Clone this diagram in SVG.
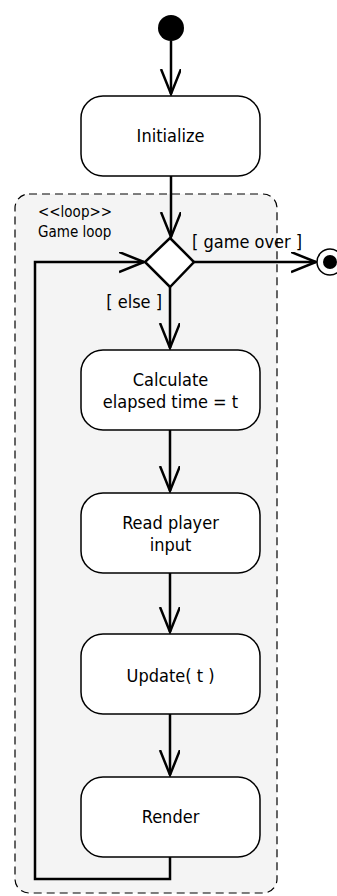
<svg xmlns="http://www.w3.org/2000/svg" width="337" height="896" viewBox="0 0 337 896">
<style>
text{font-family:"DejaVu Sans Condensed","DejaVu Sans","Liberation Sans",sans-serif;font-stretch:condensed;font-size:18px;fill:#000}
.box{fill:#fff;stroke:#000;stroke-width:1.5}
.edge{fill:none;stroke:#000;stroke-width:2.5}
.lbl{font-size:15px}
</style>
<defs>
<marker id="arr" markerWidth="30" markerHeight="24" refX="25" refY="10" orient="auto" markerUnits="userSpaceOnUse">
<path d="M0,0 L25,10 L0,20" fill="none" stroke="#000" stroke-width="2.5"/>
</marker>
</defs>
<g id="loop-frame">
<rect x="15" y="194" width="262" height="699" rx="14" fill="#f4f4f4" stroke="#000" stroke-width="1.2" stroke-dasharray="8,5"/>
<text class="lbl" x="38" y="217">&lt;&lt;loop&gt;&gt;</text>
<text class="lbl" x="38" y="237">Game loop</text>
</g>
<g id="connectors">
<path class="edge" d="M171,41 V94" marker-end="url(#arr)"/>
<path class="edge" d="M171,176 V237" marker-end="url(#arr)"/>
<path class="edge" d="M194,262 H316" marker-end="url(#arr)"/>
<path class="edge" d="M170,287 V348" marker-end="url(#arr)"/>
<path class="edge" d="M170,430 V491" marker-end="url(#arr)"/>
<path class="edge" d="M170,573 V632" marker-end="url(#arr)"/>
<path class="edge" d="M170,714 V775" marker-end="url(#arr)"/>
<path class="edge" d="M170,857 V879 H35 V262 H144" marker-end="url(#arr)"/>
<text x="192" y="248">[ game over ]</text>
<text x="162" y="308" text-anchor="end">[ else ]</text>
</g>
<g id="start"><circle cx="171" cy="28" r="13" fill="#000"/></g>
<g id="initialize">
<rect class="box" x="81" y="96" width="179" height="80" rx="22"/>
<text x="170.5" y="142" text-anchor="middle">Initialize</text>
</g>
<g id="decision">
<path d="M170,238 L194,262 L170,287 L145,262 Z" fill="#fff" stroke="#000" stroke-width="2.5"/>
</g>
<g id="final">
<circle cx="330" cy="262" r="13" fill="#fff" stroke="#000" stroke-width="1.5"/>
<circle cx="330" cy="262" r="7" fill="#000"/>
</g>
<g id="calculate">
<rect class="box" x="81" y="350" width="179" height="80" rx="22"/>
<text x="170.5" y="386" text-anchor="middle">Calculate</text>
<text x="170.5" y="408" text-anchor="middle">elapsed time = t</text>
</g>
<g id="read-input">
<rect class="box" x="81" y="493" width="179" height="80" rx="22"/>
<text x="170.5" y="529" text-anchor="middle">Read player</text>
<text x="170.5" y="551" text-anchor="middle">input</text>
</g>
<g id="update">
<rect class="box" x="81" y="634" width="179" height="80" rx="22"/>
<text x="170.5" y="682" text-anchor="middle">Update( t )</text>
</g>
<g id="render">
<rect class="box" x="81" y="777" width="179" height="80" rx="22"/>
<text x="170.5" y="823" text-anchor="middle">Render</text>
</g>
</svg>
